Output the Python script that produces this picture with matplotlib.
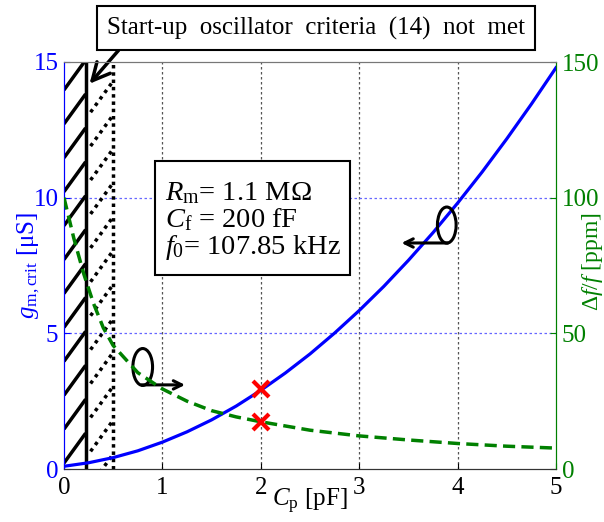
import matplotlib
matplotlib.use("Agg")
import matplotlib.pyplot as plt
from matplotlib.patches import Ellipse, Rectangle

plt.rcParams['font.family'] = ['Liberation Serif', 'DejaVu Serif']
plt.rcParams['mathtext.fontset'] = 'custom'
plt.rcParams['mathtext.rm'] = 'Liberation Serif'
plt.rcParams['mathtext.it'] = 'Liberation Serif:italic'
plt.rcParams['mathtext.bf'] = 'Liberation Serif:bold'

# ---- data ----
cp_gm = [0, 0.25, 0.5, 0.75, 1.0, 1.25, 1.5, 1.75, 2.0, 2.25, 2.5, 2.75,
         3.0, 3.25, 3.5, 3.75, 4.0, 4.25, 4.5, 4.75, 5.0]
gm_crit = [0.10, 0.23, 0.42, 0.67, 0.99, 1.37, 1.81, 2.32, 2.90, 3.54, 4.24,
           5.01, 5.84, 6.73, 7.69, 8.71, 9.80, 10.95, 12.17, 13.45, 14.79]

cp_df = [0, 0.1, 0.2, 0.3, 0.4, 0.5, 0.75, 1.0, 1.25, 1.5, 1.75, 2.0,
         2.5, 3.0, 3.5, 4.0, 4.5, 5.0]
df_ppm = [100, 85, 72, 61, 52, 45.5, 35.5, 29.5, 25.0, 21.5, 19.2, 17.4,
          14.3, 12.2, 10.7, 9.4, 8.4, 7.7]

mark_cp = [2.0]
mark_gm = [2.95]
mark_df = [17.4]

x_ticks = [0, 1, 2, 3, 4, 5]
yl_ticks = [0, 5, 10, 15]
yr_ticks = [0, 50, 100, 150]

cp_limit_solid = 0.22
cp_limit_dotted = 0.5

BLUE = '#0000ff'
GREEN = '#008000'

fig = plt.figure(figsize=(6.04, 5.22), dpi=100)
ax = fig.add_axes([64/604, 1-469/522, (556-64)/604, (469-62)/522])
ax2 = ax.twinx()

ax.set_xlim(0, 5)
ax.set_ylim(0, 15)
ax2.set_ylim(0, 150)

# grid
for xv in x_ticks[1:-1]:
    ax.axvline(xv, color='#555555', ls=(0, (2, 2)), lw=0.9, zorder=0)
for yv in yl_ticks[1:-1]:
    ax.axhline(yv, color='#6666ff', ls=(0, (2, 2)), lw=0.9, zorder=0)

# hatched "not met" region
ax.plot([cp_limit_solid, cp_limit_solid], [0, 15], color='black', lw=2.5,
        zorder=3)
ax.plot([cp_limit_dotted, cp_limit_dotted], [0, 15], color='black', lw=2.5,
        ls=(0, (1, 1.1)), zorder=3)
for k in range(12):
    y0 = 0.22 + 1.25 * k
    ax.plot([0, cp_limit_solid], [y0, y0 + 1.1], color='black', lw=2.5,
            zorder=3, solid_capstyle='butt')
for k in range(-1, 11):
    y0 = 0.65 + 1.25 * k
    ax.plot([0.27, cp_limit_dotted], [y0, y0 + 1.15], color='black', lw=2.5,
            ls=(0, (1, 1.3)), zorder=3)

# curves
ax.plot(cp_gm, gm_crit, color=BLUE, lw=2.3, zorder=4)
ax2.plot(cp_df, df_ppm, color=GREEN, lw=2.5, ls=(0, (3.5, 1.8)), zorder=4)
ax.plot(mark_cp, mark_gm, 'x', color='red', ms=12, mew=3, zorder=6)
ax2.plot(mark_cp, mark_df, 'x', color='red', ms=12, mew=3, zorder=6)

# ellipse + arrow markers
e1 = Ellipse((0.80, 3.76), 0.20, 1.36, fill=False, lw=2.2, color='black', zorder=7)
ax.add_patch(e1)
ax.annotate('', xy=(1.23, 3.1), xytext=(0.79, 3.1),
            arrowprops=dict(arrowstyle='->,head_length=0.6,head_width=0.3',
                            lw=2.2, color='black', shrinkA=0, shrinkB=0), zorder=7)
e2 = Ellipse((3.89, 8.99), 0.19, 1.33, fill=False, lw=2.2, color='black', zorder=7)
ax.add_patch(e2)
ax.annotate('', xy=(3.43, 8.33), xytext=(3.90, 8.33),
            arrowprops=dict(arrowstyle='->,head_length=0.6,head_width=0.3',
                            lw=2.2, color='black', shrinkA=0, shrinkB=0), zorder=7)

# parameter box
ax.add_patch(Rectangle((0.925, 7.15), 1.98, 4.2, fc='white', ec='black',
                       lw=1.5, zorder=8))
ax.text(1.03, 9.14,
        '$R_{\\mathrm{m}}$= 1.1 M\u03a9\n$C_{\\mathrm{f}}$ = 200 fF\n$f_0$= 107.85 kHz',
        fontsize=20.5, ha='left', va='center', linespacing=1.0, zorder=9)

# start-up annotation
ax.annotate('Start-up  oscillator  criteria  (14)  not  met',
            xy=(0.26, 14.2), xycoords='data',
            xytext=(316/604, 1-28/522), textcoords='figure fraction',
            fontsize=18, ha='center', va='center',
            bbox=dict(boxstyle='square,pad=0.4', fc='white', ec='black', lw=1.5),
            arrowprops=dict(arrowstyle='->,head_length=0.7,head_width=0.35',
                            lw=2.5, color='black', relpos=(0.05, 0.0),
                            shrinkA=0, shrinkB=0),
            annotation_clip=False, zorder=9)

# axes styling
ax.set_xticks(x_ticks)
ax.set_yticks(yl_ticks)
ax2.set_yticks(yr_ticks)
ax.tick_params(axis='x', direction='in', length=4, labelsize=18, colors='black',
               pad=6)
ax.tick_params(axis='y', direction='in', length=4, labelsize=18, colors=BLUE,
               pad=4)
ax2.tick_params(axis='y', direction='in', length=4, labelsize=18, colors=GREEN,
                pad=4)
for a in (ax, ax2):
    a.spines['left'].set_color(BLUE)
    a.spines['right'].set_color(GREEN)
    a.spines['top'].set_color('#777777')
    a.spines['bottom'].set_color('#333333')

ax.set_ylabel('$g_{\\mathrm{m,crit}}$ [\u03bcS]', color=BLUE, fontsize=18,
              va='center')
ax.yaxis.set_label_coords(-0.072, 0.5)
ax2.set_ylabel('\u0394$f$/$f$ [ppm]', color=GREEN, fontsize=17, rotation=90,
               va='center')
ax2.yaxis.set_label_coords(1.075, 0.51)
ax.text(2.5, -0.045, '$C_{\\mathrm{p}}$ [pF]', transform=ax.get_xaxis_transform(),
        fontsize=18, ha='center', va='top')

fig.savefig('out.png', dpi=100)
